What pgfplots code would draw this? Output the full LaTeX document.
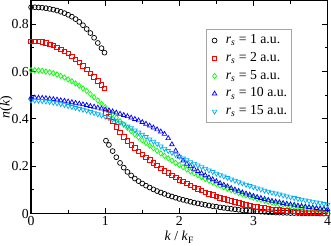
\documentclass[border=0pt]{standalone}
\usepackage{fontspec}
\setmainfont{Liberation Serif}
\usepackage{pgfplots}
\usepackage{pgfplotstable}
\pgfplotsset{compat=1.18}

\pgfplotstableread{
k n
0 0.872
0.05 0.872
0.1 0.871
0.15 0.870
0.2 0.868
0.25 0.865
0.3 0.862
0.35 0.858
0.4 0.853
0.45 0.847
0.5 0.840
0.55 0.832
0.6 0.822
0.65 0.810
0.7 0.796
0.75 0.780
0.8 0.763
0.85 0.743
0.9 0.721
0.95 0.699
0.99 0.680
1.01 0.308
1.05 0.290
1.1 0.264
1.15 0.238
1.2 0.214
1.25 0.194
1.3 0.176
1.35 0.161
1.4 0.148
1.45 0.137
1.5 0.127
1.55 0.118
1.6 0.110
1.65 0.102
1.7 0.095
1.75 0.089
1.8 0.083
1.85 0.077
1.9 0.072
1.95 0.067
2.0 0.062
2.05 0.058
2.1 0.054
2.15 0.050
2.2 0.046
2.25 0.043
2.3 0.040
2.35 0.037
2.4 0.034
2.45 0.031
2.5 0.029
2.55 0.026
2.6 0.024
2.65 0.022
2.7 0.020
2.75 0.018
2.8 0.016
2.85 0.014
2.9 0.013
2.95 0.011
3.0 0.010
3.05 0.009
3.1 0.008
3.15 0.007
3.2 0.006
3.25 0.005
3.3 0.004
3.35 0.004
3.4 0.003
3.45 0.003
3.5 0.002
3.55 0.002
3.6 0.002
3.65 0.001
3.7 0.001
3.75 0.001
3.8 0.001
3.85 0.001
3.9 0.000
3.95 0.000
4.0 0.000
}\rsone

\pgfplotstableread{
k n
0 0.728
0.05 0.728
0.1 0.727
0.15 0.725
0.2 0.721
0.25 0.716
0.3 0.710
0.35 0.703
0.4 0.695
0.45 0.686
0.5 0.676
0.55 0.665
0.6 0.652
0.65 0.638
0.7 0.624
0.75 0.609
0.8 0.593
0.85 0.577
0.9 0.560
0.95 0.543
0.99 0.530
1.01 0.425
1.05 0.410
1.1 0.390
1.15 0.366
1.2 0.343
1.25 0.324
1.3 0.307
1.35 0.291
1.4 0.277
1.45 0.263
1.5 0.250
1.55 0.238
1.6 0.226
1.65 0.214
1.7 0.203
1.75 0.192
1.8 0.181
1.85 0.171
1.9 0.161
1.95 0.152
2.0 0.143
2.05 0.135
2.1 0.127
2.15 0.119
2.2 0.111
2.25 0.104
2.3 0.097
2.35 0.090
2.4 0.084
2.45 0.078
2.5 0.072
2.55 0.067
2.6 0.062
2.65 0.057
2.7 0.053
2.75 0.049
2.8 0.045
2.85 0.041
2.9 0.037
2.95 0.034
3.0 0.031
3.05 0.028
3.1 0.025
3.15 0.023
3.2 0.020
3.25 0.018
3.3 0.016
3.35 0.015
3.4 0.013
3.45 0.012
3.5 0.010
3.55 0.009
3.6 0.008
3.65 0.007
3.7 0.006
3.75 0.006
3.8 0.005
3.85 0.004
3.9 0.004
3.95 0.003
4.0 0.003
}\rstwo

\pgfplotstableread{
k n
0 0.606
0.05 0.606
0.1 0.605
0.15 0.603
0.2 0.600
0.25 0.597
0.3 0.593
0.35 0.588
0.4 0.582
0.45 0.575
0.5 0.567
0.55 0.559
0.6 0.550
0.65 0.540
0.7 0.529
0.75 0.518
0.8 0.505
0.85 0.492
0.9 0.478
0.95 0.464
1.0 0.450
1.05 0.435
1.1 0.420
1.15 0.405
1.2 0.390
1.25 0.376
1.3 0.362
1.35 0.348
1.4 0.335
1.45 0.322
1.5 0.310
1.55 0.298
1.6 0.287
1.65 0.276
1.7 0.265
1.75 0.254
1.8 0.244
1.85 0.234
1.9 0.224
1.95 0.214
2.0 0.205
2.05 0.196
2.1 0.187
2.15 0.178
2.2 0.170
2.25 0.162
2.3 0.154
2.35 0.146
2.4 0.139
2.45 0.132
2.5 0.125
2.55 0.118
2.6 0.111
2.65 0.105
2.7 0.099
2.75 0.093
2.8 0.087
2.85 0.082
2.9 0.077
2.95 0.072
3.0 0.067
3.05 0.062
3.1 0.058
3.15 0.054
3.2 0.050
3.25 0.046
3.3 0.043
3.35 0.040
3.4 0.037
3.45 0.034
3.5 0.031
3.55 0.029
3.6 0.027
3.65 0.025
3.7 0.023
3.75 0.021
3.8 0.019
3.85 0.017
3.9 0.016
3.95 0.014
4.0 0.013
}\rsfive

\pgfplotstableread{
k n
0 0.490
0.05 0.490
0.1 0.489
0.15 0.488
0.2 0.487
0.25 0.485
0.3 0.483
0.35 0.481
0.4 0.478
0.45 0.476
0.5 0.473
0.55 0.470
0.6 0.467
0.65 0.464
0.7 0.461
0.75 0.458
0.8 0.454
0.85 0.451
0.9 0.447
0.95 0.443
1.0 0.439
1.05 0.435
1.1 0.431
1.15 0.426
1.2 0.421
1.25 0.416
1.3 0.411
1.35 0.405
1.4 0.399
1.45 0.393
1.5 0.386
1.55 0.379
1.6 0.371
1.65 0.363
1.7 0.355
1.75 0.346
1.8 0.336
1.85 0.318
1.9 0.292
1.95 0.265
2.0 0.240
2.05 0.223
2.1 0.210
2.15 0.199
2.2 0.189
2.25 0.179
2.3 0.170
2.35 0.161
2.4 0.152
2.45 0.144
2.5 0.136
2.55 0.128
2.6 0.121
2.65 0.114
2.7 0.107
2.75 0.101
2.8 0.095
2.85 0.089
2.9 0.084
2.95 0.079
3.0 0.074
3.05 0.069
3.1 0.065
3.15 0.061
3.2 0.057
3.25 0.053
3.3 0.050
3.35 0.047
3.4 0.044
3.45 0.041
3.5 0.038
3.55 0.036
3.6 0.033
3.65 0.031
3.7 0.029
3.75 0.027
3.8 0.025
3.85 0.023
3.9 0.021
3.95 0.020
4.0 0.018
}\rsten

\pgfplotstableread{
k n
0 0.478
0.05 0.478
0.1 0.477
0.15 0.476
0.2 0.474
0.25 0.472
0.3 0.469
0.35 0.466
0.4 0.463
0.45 0.459
0.5 0.455
0.55 0.451
0.6 0.447
0.65 0.443
0.7 0.439
0.75 0.435
0.8 0.430
0.85 0.425
0.9 0.420
0.95 0.415
1.0 0.410
1.05 0.404
1.1 0.398
1.15 0.391
1.2 0.384
1.25 0.377
1.3 0.369
1.35 0.361
1.4 0.352
1.45 0.343
1.5 0.334
1.55 0.324
1.6 0.314
1.65 0.304
1.7 0.294
1.75 0.284
1.8 0.274
1.85 0.265
1.9 0.257
1.95 0.249
2.0 0.241
2.05 0.233
2.1 0.226
2.15 0.218
2.2 0.211
2.25 0.204
2.3 0.197
2.35 0.190
2.4 0.183
2.45 0.176
2.5 0.169
2.55 0.163
2.6 0.157
2.65 0.151
2.7 0.145
2.75 0.139
2.8 0.133
2.85 0.128
2.9 0.122
2.95 0.117
3.0 0.112
3.05 0.107
3.1 0.102
3.15 0.097
3.2 0.093
3.25 0.089
3.3 0.085
3.35 0.081
3.4 0.077
3.45 0.073
3.5 0.069
3.55 0.066
3.6 0.062
3.65 0.059
3.7 0.056
3.75 0.053
3.8 0.050
3.85 0.047
3.9 0.044
3.95 0.041
4.0 0.038
}\rsfifteen

\begin{document}
\fontsize{13.5}{15}\selectfont
\begin{tikzpicture}
\begin{axis}[
  scale only axis,
  width=291pt, height=209pt,
  xmin=0, xmax=4, ymin=0, ymax=0.9,
  xtick={0,1,2,3,4}, minor xtick={0.5,1.5,2.5,3.5},
  ytick={0,0.2,0.4,0.6,0.8}, minor ytick={0.1,0.3,0.5,0.7},
  tick align=inside,
  major tick length=5pt, minor tick length=3pt,
  axis line style={line width=1.2pt},
  every tick/.style={black, line width=0.9pt},
  /pgf/number format/assume math mode=true,
  tick label style={font=\fontsize{13.5}{15}\selectfont},
  yticklabel style={inner xsep=2pt},
  xticklabel style={inner xsep=0pt, inner ysep=3pt},
  xlabel={\textit{k} / \textit{k}\textsubscript{F}},
  ylabel={\textit{n}(\textit{k})},
  label style={font=\fontsize{13.5}{15}\selectfont},
  xlabel style={inner xsep=0pt, inner ysep=2pt, yshift=0pt},
  ylabel style={inner sep=0pt, yshift=-3pt},
  legend style={at={(0.59,0.868)}, anchor=north west, draw=gray!70,
    line width=0.8pt, font=\fontsize{13.5}{15}\selectfont,
    inner xsep=2pt, inner ysep=2.5pt, row sep=0pt,
    nodes={inner sep=2pt, text height=9.8pt, text depth=3.6pt}},
  legend image code/.code={%
    \path[draw=none, fill=none] (0pt,-3pt) rectangle (15pt,3pt);
    \draw[#1] plot[only marks] coordinates {(6pt,0pt)};},
  legend cell align=left,
  every axis plot/.append style={only marks, line width=0.7pt},
]
\addplot[black, mark=o, mark size=2.4pt] table[x=k,y=n] {\rsone};
\addlegendentry{\textit{r}\textsubscript{\textit{s}} = 1 a.u.}
\addplot[red, mark=square, mark size=2.2pt] table[x=k,y=n] {\rstwo};
\addlegendentry{\textit{r}\textsubscript{\textit{s}} = 2 a.u.}
\addplot[green, mark=diamond, mark size=2.6pt] table[x=k,y=n] {\rsfive};
\addlegendentry{\textit{r}\textsubscript{\textit{s}} = 5 a.u.}
\addplot[blue, mark=triangle, mark size=2.6pt] table[x=k,y=n] {\rsten};
\addlegendentry{\textit{r}\textsubscript{\textit{s}} = 10 a.u.}
\addplot[cyan, mark=triangle, mark size=2.6pt, mark options={rotate=180}] table[x=k,y=n] {\rsfifteen};
\addlegendentry{\textit{r}\textsubscript{\textit{s}} = 15 a.u.}
\end{axis}
\end{tikzpicture}
\end{document}
